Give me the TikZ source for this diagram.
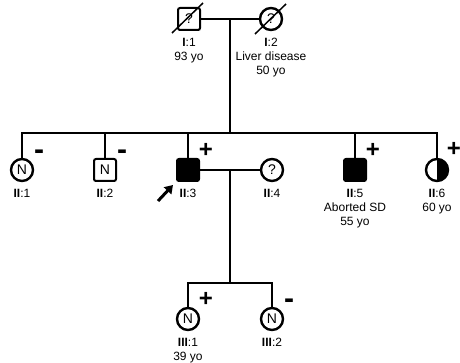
\documentclass[tikz,border=0pt]{standalone}
\usepackage{fontspec}
\setmainfont{Liberation Sans}
\usetikzlibrary{arrows.meta, positioning}
\tikzset{
  male/.style={rectangle, rounded corners=2pt, draw, line width=2pt,
               minimum size=22pt, inner sep=0pt, font=\fontsize{14}{14}\selectfont},
  female/.style={circle, draw, line width=2.4pt,
                 minimum size=22pt, inner sep=0pt, font=\fontsize{14}{14}\selectfont},
  aff/.style={fill=black},
  halfaff/.style={path picture={\fill (path picture bounding box.north)
                  rectangle (path picture bounding box.south east);}},
  lbl/.style={font=\fontsize{12}{14}\selectfont, align=center, inner sep=0pt},
  sign/.style={font=\fontsize{24}{24}\selectfont\bfseries, inner sep=0pt},
  neg/.style={font=\fontsize{30}{30}\selectfont\bfseries, inner sep=0pt},
  link/.style={line width=1.8pt},
  dead/.style={line width=1.5pt},
  arr/.style={-{Triangle[length=8pt, width=10pt]}, line width=3pt},
}
\begin{document}
\begin{tikzpicture}[x=1pt, y=-1pt]
  \useasboundingbox (0,0) rectangle (460,363);

  % generation I
  \node[male] (i1) at (189,19) {?};
  \node[female, on grid, right=82pt of i1] (i2) {?};
  \draw[dead] ([shift={(-17,14)}]i1.center) -- ([shift={(14,-16)}]i1.center);
  \draw[dead] ([shift={(-16,15)}]i2.center) -- ([shift={(15,-15)}]i2.center);
  \node[lbl, below=7pt of i1] (i1l) {\textbf{I}:1\\93 yo};
  \node[lbl, below=7pt of i2] (i2l) {\textbf{I}:2\\Liver disease\\50 yo};

  % generation II
  \node[female] (ii1) at (22,170) {N};
  \node[male, on grid, right=83pt of ii1] (ii2) {N};
  \node[male, aff, on grid, right=83pt of ii2] (ii3) {};
  \node[female, on grid, right=84pt of ii3] (ii4) {?};
  \node[male, aff, on grid, right=83pt of ii4] (ii5) {};
  \node[female, halfaff, on grid, right=82pt of ii5] (ii6) {};
  \node[lbl, below=7pt of ii1] (ii1l) {\textbf{II}:1};
  \node[lbl, below=7pt of ii2] (ii2l) {\textbf{II}:2};
  \node[lbl, below=7pt of ii3] (ii3l) {\textbf{II}:3};
  \node[lbl, below=7pt of ii4] (ii4l) {\textbf{II}:4};
  \node[lbl, below=7pt of ii5] (ii5l) {\textbf{II}:5\\Aborted SD\\55 yo};
  \node[lbl, below=7pt of ii6] (ii6l) {\textbf{II}:6\\60 yo};

  % generation III
  \node[female] (iii1) at (188,319) {N};
  \node[female, on grid, right=84pt of iii1] (iii2) {N};
  \node[lbl, below=7pt of iii1] (iii1l) {\textbf{III}:1\\39 yo};
  \node[lbl, below=7pt of iii2] (iii2l) {\textbf{III}:2};

  % test results
  \node[neg] at ([shift={(17,-15)}]ii1.center) {-};
  \node[neg] at ([shift={(17,-15)}]ii2.center) {-};
  \node[sign] at ([shift={(18,-20)}]ii3.center) {+};
  \node[sign] at ([shift={(18,-20)}]ii5.center) {+};
  \node[sign] at ([shift={(17,-21)}]ii6.center) {+};
  \node[sign] at ([shift={(18,-20)}]iii1.center) {+};
  \node[neg] at ([shift={(17,-15)}]iii2.center) {-};

  % lines of descent
  \coordinate (c1) at (230,19);
  \coordinate (s2) at (230,133);
  \coordinate (c2) at (230,170);
  \coordinate (s3) at (230,283);
  \draw[link] (i1) -- (i2);
  \draw[link] (c1) -- (s2);
  \draw[link] (ii1.north) |- (s2) -| (ii6.north);
  \foreach \n in {ii2, ii3, ii5}
    \draw[link] (\n.north) -- (\n.north |- s2);
  \draw[link] (ii3) -- (ii4);
  \draw[link] (c2) -- (s3);
  \draw[link] (iii1.north) |- (s3) -| (iii2.north);

  % proband
  \draw[arr] ([shift={(-18,19)}]ii3.south west) -- ([shift={(-3,3)}]ii3.south west);
\end{tikzpicture}
\end{document}
